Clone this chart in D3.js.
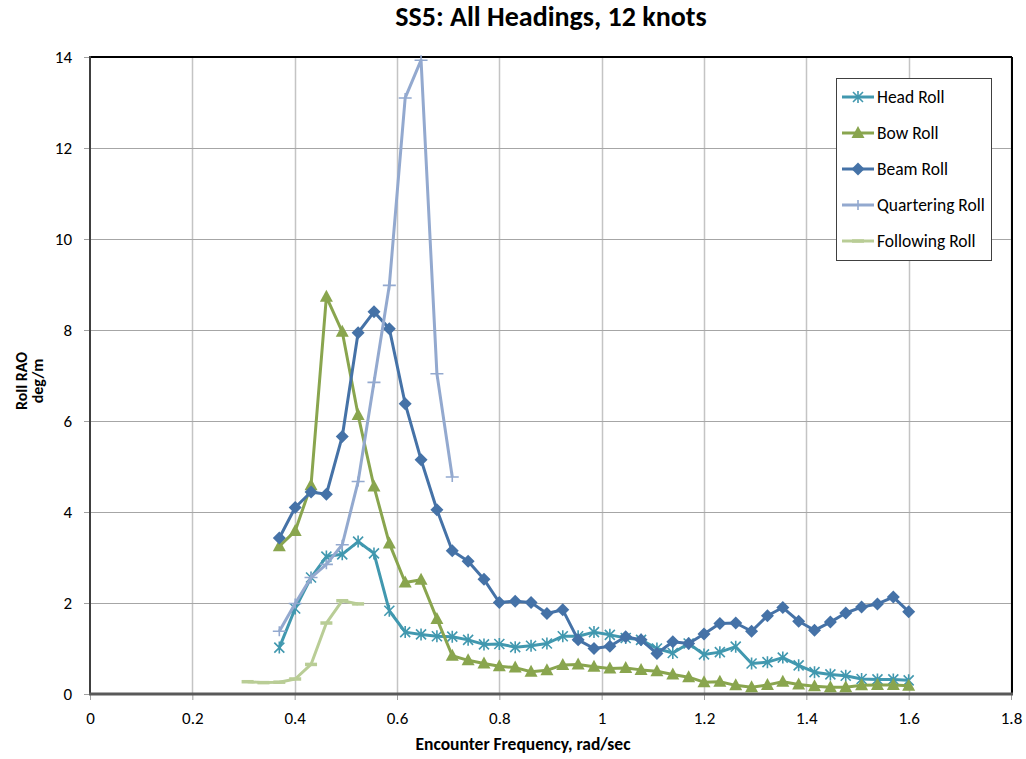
<!DOCTYPE html>
<html>
<head>
<meta charset="utf-8">
<script src="https://cdn.jsdelivr.net/npm/d3@7"></script>
<style>
  html, body { margin: 0; padding: 0; background: #fff; }
  svg { display: block; font-family: Carlito, Lato, "Open Sans", sans-serif; }
</style>
</head>
<body>
<svg id="chart" width="1026" height="759"></svg>
<script>
// ---------- data ----------
const freq = [0.308, 0.339, 0.370, 0.401, 0.432, 0.462, 0.493, 0.524, 0.555, 0.585,
  0.616, 0.647, 0.678, 0.708, 0.739, 0.770, 0.800, 0.831, 0.862, 0.893,
  0.924, 0.954, 0.985, 1.016, 1.047, 1.077, 1.108, 1.139, 1.170, 1.200,
  1.231, 1.262, 1.293, 1.324, 1.354, 1.385, 1.416, 1.447, 1.477, 1.508,
  1.539, 1.570, 1.600];

const headRoll = [null, null,
  1.02, 1.88, 2.56, 3.02, 3.07, 3.35, 3.09, 1.83, 1.36, 1.31,
  1.27, 1.26, 1.19, 1.09, 1.10, 1.03, 1.06, 1.11, 1.27, 1.27,
  1.36, 1.30, 1.23, 1.19, 1.00, 0.90, 1.11, 0.87, 0.92, 1.04,
  0.67, 0.70, 0.80, 0.63, 0.48, 0.43, 0.40, 0.33, 0.32, 0.32, 0.30];

const bowRoll = [null, null,
  3.25, 3.58, 4.59, 8.73, 7.96, 6.13, 4.56, 3.31, 2.45, 2.51,
  1.65, 0.84, 0.74, 0.67, 0.61, 0.58, 0.49, 0.52, 0.64, 0.65,
  0.60, 0.56, 0.57, 0.53, 0.50, 0.43, 0.37, 0.26, 0.27, 0.19,
  0.15, 0.20, 0.27, 0.21, 0.17, 0.15, 0.15, 0.19, 0.20, 0.20, 0.18];

const beamRoll = [null, null,
  3.43, 4.10, 4.44, 4.39, 5.66, 7.94, 8.40, 8.03, 6.38, 5.15,
  4.05, 3.15, 2.92, 2.52, 2.01, 2.04, 2.01, 1.77, 1.85, 1.19,
  1.00, 1.05, 1.26, 1.19, 0.89, 1.15, 1.11, 1.32, 1.55, 1.56,
  1.38, 1.72, 1.90, 1.60, 1.40, 1.58, 1.78, 1.91, 1.98, 2.13, 1.81];

const quarteringRoll = [null, null,
  1.38, 1.99, 2.56, 2.85, 3.28, 4.67, 6.85, 8.98, 13.10, 13.93,
  7.04, 4.77];

const followingRoll = [0.27, 0.25, 0.26, 0.33, 0.65, 1.56, 2.05, 1.98];

const seriesNames = ["Head Roll", "Bow Roll", "Beam Roll", "Quartering Roll", "Following Roll"];
const seriesValues = [headRoll, bowRoll, beamRoll, quarteringRoll, followingRoll];
const seriesColors = ["#4198AF", "#89A54E", "#4572A7", "#93A9CF", "#B9CD96"];
const seriesMarkers = ["star", "triangle", "diamond", "plus", "dash"];

const xTicks = [0, 0.2, 0.4, 0.6, 0.8, 1, 1.2, 1.4, 1.6, 1.8];
const yTicks = [0, 2, 4, 6, 8, 10, 12, 14];

const titleText = "SS5: All Headings, 12 knots";
const xTitle = "Encounter Frequency, rad/sec";
const yTitle = ["Roll RAO", "deg/m"];

// ---------- layout ----------
const svg = d3.select("#chart");
const L = 90, R = 1011, T = 57, B = 694;
const x = d3.scaleLinear().domain([0, 1.8]).range([L, R]);
const y = d3.scaleLinear().domain([0, 14]).range([B, T]);

// gridlines
svg.append("g").selectAll("line").data(xTicks.slice(1)).join("line")
  .attr("x1", d => Math.round(x(d)) + 0.5).attr("x2", d => Math.round(x(d)) + 0.5)
  .attr("y1", T).attr("y2", B)
  .attr("stroke", "#c4c4c4").attr("stroke-width", 1.5);
svg.append("g").selectAll("line").data(yTicks.slice(1)).join("line")
  .attr("x1", L).attr("x2", R)
  .attr("y1", d => Math.round(y(d)) + 0.5).attr("y2", d => Math.round(y(d)) + 0.5)
  .attr("stroke", "#a6a6a6").attr("stroke-width", 1);

// plot frame top / right
svg.append("line").attr("x1", L).attr("x2", R + 1).attr("y1", T).attr("y2", T)
  .attr("stroke", "#000").attr("stroke-width", 2);
svg.append("line").attr("x1", R + 1).attr("x2", R + 1).attr("y1", T).attr("y2", B)
  .attr("stroke", "#000").attr("stroke-width", 2);

// axes
const yAxis = svg.append("g").attr("transform", `translate(${L},0)`)
  .call(d3.axisLeft(y).tickValues(yTicks).tickSize(6).tickPadding(12).tickFormat(d3.format("d")));
const xAxis = svg.append("g").attr("transform", `translate(0,${B})`)
  .call(d3.axisBottom(x).tickValues(xTicks).tickSize(6).tickPadding(10).tickFormat(d => d3.format("")(d)));
[yAxis, xAxis].forEach(g => {
  g.select(".domain").remove();
  g.selectAll(".tick line").attr("stroke", "#a0a0a0");
  g.selectAll(".tick text").attr("fill", "#000").style("font-size", "17px")
    .style("font-family", "Carlito, Lato, 'Open Sans', sans-serif");
});
xAxis.selectAll(".tick text").attr("y", 30).attr("dy", 0);
svg.append("line").attr("x1", L).attr("x2", L).attr("y1", T - 1).attr("y2", B + 1)
  .attr("stroke", "#404040").attr("stroke-width", 2);
svg.append("line").attr("x1", L - 1).attr("x2", R + 2).attr("y1", B).attr("y2", B)
  .attr("stroke", "#595959").attr("stroke-width", 3);

// titles
svg.append("text").attr("x", 551).attr("y", 26).attr("text-anchor", "middle")
  .style("font-size", "28px").style("font-weight", "bold").text(titleText);
svg.append("text").attr("x", 523).attr("y", 750).attr("text-anchor", "middle")
  .style("font-size", "17.5px").style("font-weight", "bold").text(xTitle);
yTitle.forEach((t, i) => {
  svg.append("text").attr("transform", `translate(${27 + i * 16},381) rotate(-90)`)
    .attr("text-anchor", "middle").style("font-size", "16px").style("font-weight", "bold").text(t);
});

// markers
function drawMarker(g, type, color) {
  if (type === "diamond") {
    g.append("path").attr("d", "M0,-6.5L6.5,0L0,6.5L-6.5,0Z").attr("fill", color);
  } else if (type === "triangle") {
    g.append("path").attr("d", "M0,-7L6.5,5L-6.5,5Z").attr("fill", color);
  } else if (type === "star") {
    g.append("path").attr("d", "M-5,-5L5,5M-5,5L5,-5M0,-6L0,6")
      .attr("stroke", color).attr("stroke-width", 1.6).attr("fill", "none");
  } else if (type === "plus") {
    g.append("path").attr("d", "M-6.5,0L6.5,0M0,-5L0,5")
      .attr("stroke", color).attr("stroke-width", 1.6).attr("fill", "none");
  } else if (type === "dash") {
    g.append("rect").attr("x", -6).attr("y", -1.75).attr("width", 12).attr("height", 3.5).attr("fill", color);
  }
}

const line = d3.line()
  .defined(d => d.v != null)
  .x(d => x(d.f)).y(d => y(d.v));

seriesValues.forEach((vals, si) => {
  const pts = vals.map((v, i) => ({ f: freq[i], v: v }));
  const g = svg.append("g");
  g.append("path").datum(pts).attr("d", line)
    .attr("fill", "none").attr("stroke", seriesColors[si]).attr("stroke-width", 3)
    .attr("stroke-linejoin", "round");
  pts.filter(d => d.v != null).forEach(d => {
    const mg = g.append("g").attr("transform", `translate(${x(d.f)},${y(d.v)})`);
    drawMarker(mg, seriesMarkers[si], seriesColors[si]);
  });
});

// legend
const lg = svg.append("g");
lg.append("rect").attr("x", 836.5).attr("y", 78.5).attr("width", 155).attr("height", 182)
  .attr("fill", "#fff").attr("stroke", "#404040").attr("stroke-width", 1);
seriesNames.forEach((n, i) => {
  const cy = 97 + i * 36;
  lg.append("line").attr("x1", 842).attr("x2", 874).attr("y1", cy).attr("y2", cy)
    .attr("stroke", seriesColors[i]).attr("stroke-width", 3);
  const mg = lg.append("g").attr("transform", `translate(858,${cy})`);
  drawMarker(mg, seriesMarkers[i], seriesColors[i]);
  lg.append("text").attr("x", 877).attr("y", cy + 6).style("font-size", "17.5px").text(n);
});
</script>
</body>
</html>
